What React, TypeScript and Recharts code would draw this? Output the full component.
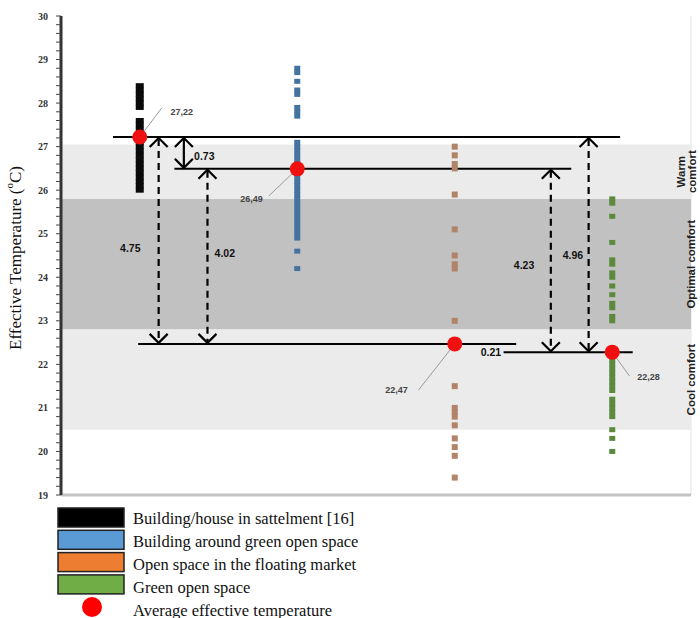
import {
  ScatterChart,
  Scatter,
  XAxis,
  YAxis,
  CartesianGrid,
  ReferenceArea,
  ReferenceLine,
  ReferenceDot
} from "recharts";

// legend names, in column order
const categories = [
  "Building/house in sattelment [16]",
  "Building around green open space",
  "Open space in the floating market",
  "Green open space"
];

const blackTemps = [
  28.4, 28.3, 28.2, 28.1, 28.0, 27.9, 27.6, 27.5, 27.4, 27.3, 27.2, 27.1, 27.0,
  26.9, 26.8, 26.7, 26.6, 26.5, 26.4, 26.3, 26.2, 26.1, 26.0
];
const blueTemps = [
  28.8, 28.7, 28.5, 28.3, 28.2, 27.9, 27.8, 27.7, 27.1, 27.0, 26.9, 26.8, 26.7,
  26.6, 26.5, 26.4, 26.3, 26.2, 26.1, 26.0, 25.9, 25.8, 25.7, 25.6, 25.5, 25.4,
  25.3, 25.2, 25.1, 25.0, 24.9, 24.6, 24.2
];
const orangeTemps = [
  27.0, 26.8, 26.6, 26.5, 25.9, 25.1, 24.5, 24.3, 24.2, 23.0, 21.5, 21.0, 20.9,
  20.8, 20.6, 20.3, 20.1, 19.9, 19.4
];
const greenTemps = [
  25.8, 25.7, 25.4, 24.8, 24.4, 24.3, 24.1, 24.0, 23.8, 23.6, 23.4, 23.3, 23.1,
  23.0, 22.2, 22.1, 22.0, 21.9, 21.8, 21.7, 21.6, 21.5, 21.4, 21.2, 21.1, 21.0,
  20.9, 20.8, 20.5, 20.3, 20.0
];
const averages = [27.22, 26.49, 22.47, 22.28];
const averageLabels = ["27,22", "26,49", "22,47", "22,28"];

const xGrid = [0.5, 1, 1.5, 2, 2.5, 3, 3.5, 4, 4.5];

// comfort zones (°C)
const zoneNames = ["Warm comfort", "Optimal comfort", "Cool comfort"];
const zoneFrom = [25.8, 22.8, 20.5];
const zoneTo = [27.05, 25.8, 22.8];

// differences between averages: [from index, to index, text]
const diffs: [number, number, string][] = [
  [0, 2, "4.75"],
  [0, 1, "0.73"],
  [1, 2, "4.02"],
  [1, 3, "4.23"],
  [0, 3, "4.96"]
];

const legendColors = ["#000000", "#5b9bd5", "#ed7d31", "#70ad47"];
const pointColors = ["#0a0a0a", "#44739f", "#b08468", "#5c8a3c"];
const pointSize = [[8, 5], [6, 5], [6, 6], [6, 5]];

// annotation placement (x in category units)
const guideX: [number, number][] = [
  [0.83, 4.05],
  [1.22, 3.74],
  [0.99, 3.39],
  [3.31, 4.13]
];
const arrowX = [1.12, 1.28, 1.43, 3.61, 3.85];
const diffLabelPos: [number, number][] = [
  [0.94, 24.67],
  [1.41, 26.78],
  [1.54, 24.56],
  [3.44, 24.28],
  [3.75, 24.51]
];
const avgLabelPos: [number, number][] = [
  [1.266, 27.8],
  [1.71, 25.8],
  [2.63, 21.41],
  [4.23, 21.71]
];
const leaderStart: [number, number][] = [
  [1.14, 27.89],
  [1.82, 25.87],
  [2.77, 21.41],
  [4.11, 21.73]
];

// ticks every 0.2, labels only on whole degrees
const yTicks: number[] = [];
for (let i = 95; i <= 150; i++) yTicks.push(i / 5);

const series = [blackTemps, blueTemps, orangeTemps, greenTemps].map((arr, i) =>
  arr.map((y) => ({ x: i + 1, y }))
);
const avgData = averages.map((y, i) => ({ x: i + 1, y }));

const ArrowShape = (solid: boolean) => (p: any) => {
  const x = p.x1;
  const top = Math.min(p.y1, p.y2);
  const bot = Math.max(p.y1, p.y2);
  return (
    <g stroke="#000" strokeWidth={2.2} fill="none">
      <line x1={x} y1={top + 2} x2={x} y2={bot - 2} strokeDasharray={solid ? undefined : "7 5"} />
      <polyline points={`${x - 9},${top + 10} ${x},${top + 1} ${x + 9},${top + 10}`} />
      <polyline points={`${x - 9},${bot - 10} ${x},${bot - 1} ${x + 9},${bot - 10}`} />
    </g>
  );
};

const textAt = (text: string, opts: any) => (p: any) => (
  <text
    x={p.cx}
    y={p.cy}
    textAnchor="middle"
    dominantBaseline="central"
    fontFamily="'Liberation Sans', Arial, sans-serif"
    fontWeight="bold"
    fontSize={opts.size || 10.5}
    fill={opts.color || "#111"}
  >
    {text}
  </text>
);

const YTick = (p: any) => {
  const v = p.payload.value;
  if (Math.abs(v - Math.round(v)) > 1e-6) return <g />;
  return (
    <text
      x={p.x}
      y={p.y}
      textAnchor="end"
      dominantBaseline="central"
      fontFamily="'Liberation Serif', serif"
      fontWeight="bold"
      fontSize={10}
      fill="#333"
    >
      {Math.round(v)}
    </text>
  );
};

const zoneLabel = (name: string) => (p: any) => {
  const warm = name === "Warm comfort";
  const lines = warm ? name.split(" ") : [name];
  const baseX = warm ? 681 : 691;
  return (
    <g>
      {lines.map((l, i) => (
        <text
          key={l}
          x={baseX + i * 11}
          y={p.cy}
          transform={`rotate(-90 ${baseX + i * 11} ${p.cy})`}
          textAnchor="middle"
          dominantBaseline="central"
          fontFamily="'Liberation Sans', Arial, sans-serif"
          fontWeight="bold"
          fontSize={11.5}
          fill="#222"
        >
          {l}
        </text>
      ))}
    </g>
  );
};

const YLabel = () => (
  <text
    x={15}
    y={258}
    transform="rotate(-90 15 258)"
    textAnchor="middle"
    dominantBaseline="central"
    fontFamily="'Liberation Serif', 'Times New Roman', serif"
    fontSize={17}
    fill="#111"
  >
    Effective Temperature (<tspan fontSize={11} dy={-6}>o</tspan>
    <tspan dy={6}>C)</tspan>
  </text>
);

export default function App() {
  return (
    <div style={{ position: "absolute", left: 0, top: 0, width: 700, height: 618, background: "#fff" }}>
      <ScatterChart width={700} height={500} margin={{ top: 16, right: 9, left: 0, bottom: 3 }}>
        <ReferenceArea y1={zoneFrom[0]} y2={zoneTo[0]} fill="#ebebeb" fillOpacity={1} stroke="none" />
        <ReferenceArea y1={zoneFrom[1]} y2={zoneTo[1]} fill="#c1c1c1" fillOpacity={1} stroke="none" />
        <ReferenceArea y1={zoneFrom[2]} y2={zoneTo[2]} fill="#ebebeb" fillOpacity={1} stroke="none" />
        <CartesianGrid horizontal={false} stroke="#ececec" strokeWidth={1.5} />
        <XAxis
          type="number"
          dataKey="x"
          domain={[0.5, 4.5]}
          ticks={xGrid}
          tick={false}
          tickLine={false}
          height={2}
          axisLine={{ stroke: "#c4c4c4", strokeWidth: 3 }}
        />
        <YAxis
          type="number"
          dataKey="y"
          domain={[19, 30]}
          ticks={yTicks}
          interval={0}
          width={61}
          tickSize={5}
          tickLine={{ stroke: "#444", strokeWidth: 1 }}
          axisLine={{ stroke: "#333", strokeWidth: 3 }}
          tick={YTick}
          tickMargin={8}
        />
        {series.map((data, i) => (
          <Scatter
            key={categories[i]}
            name={categories[i]}
            data={data}
            isAnimationActive={false}
            shape={(p: any) => (
              <rect
                x={p.cx - pointSize[i][0] / 2}
                y={p.cy - pointSize[i][1] / 2}
                width={pointSize[i][0]}
                height={pointSize[i][1]}
                fill={pointColors[i]}
              />
            )}
          />
        ))}
        {averages.map((y, i) => (
          <ReferenceLine
            key={"lead" + i}
            segment={[
              { x: leaderStart[i][0], y: leaderStart[i][1] },
              { x: i + 1, y }
            ]}
            stroke="#9a9a9a"
            strokeWidth={1}
          />
        ))}
        <Scatter
          name="Average effective temperature"
          data={avgData}
          isAnimationActive={false}
          shape={(p: any) => <circle cx={p.cx} cy={p.cy} r={7.5} fill="#f01010" />}
        />
        {averages.map((y, i) => (
          <ReferenceLine
            key={"guide" + i}
            segment={[
              { x: guideX[i][0], y },
              { x: guideX[i][1], y }
            ]}
            stroke="#000"
            strokeWidth={2}
          />
        ))}
        {diffs.map(([a, b, t], i) => (
          <ReferenceLine
            key={"arrow" + t}
            segment={[
              { x: arrowX[i], y: averages[a] },
              { x: arrowX[i], y: averages[b] }
            ]}
            shape={ArrowShape(t === "0.73")}
          />
        ))}
        {diffs.map(([, , t], i) => (
          <ReferenceDot
            key={"dl" + t}
            x={diffLabelPos[i][0]}
            y={diffLabelPos[i][1]}
            shape={textAt(t, {})}
          />
        ))}
        <ReferenceDot x={3.23} y={averages[3]} shape={textAt("0.21", {})} />
        {averageLabels.map((t, i) => (
          <ReferenceDot
            key={"al" + t}
            x={avgLabelPos[i][0]}
            y={avgLabelPos[i][1]}
            shape={textAt(t, { size: 9, color: "#444" })}
          />
        ))}
        {zoneNames.map((n, i) => (
          <ReferenceDot key={n} x={4.5} y={(zoneFrom[i] + zoneTo[i]) / 2} shape={zoneLabel(n)} />
        ))}
        <YLabel />
      </ScatterChart>
      <svg
        width={700}
        height={118}
        style={{ position: "absolute", left: 0, top: 500 }}
        fontFamily="'Liberation Serif', 'Times New Roman', serif"
        fontSize={16.5}
      >
        {categories.map((c, i) => (
          <g key={c}>
            <rect x={58} y={8 + i * 22.3} width={66} height={19} fill={legendColors[i]} stroke="#222" strokeWidth={1.5} />
            <text x={133} y={18 + i * 23} dominantBaseline="central" fill="#111">
              {c}
            </text>
          </g>
        ))}
        <circle cx={92} cy={107} r={10} fill="#ff0000" />
        <text x={133} y={110} dominantBaseline="central" fill="#111">
          Average effective temperature
        </text>
      </svg>
    </div>
  );
}
